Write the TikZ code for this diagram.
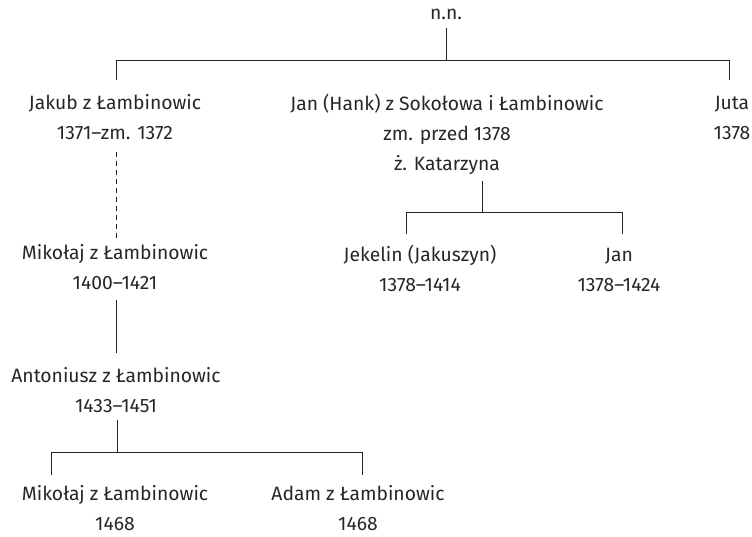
\documentclass[tikz,border=0pt]{standalone}
\usepackage{fontspec}
\setmainfont{Fira Sans}
\begin{document}
\begin{tikzpicture}[x=1pt,y=-1pt,
  person/.style={align=center,inner sep=0pt,anchor=base,text=black!85,font=\fontsize{19.3}{30}\selectfont},
  link/.style={line width=0.9pt,draw=black!85}]
\useasboundingbox (0,0) rectangle (752,537);
% nodes (anchor = baseline of last line)
\node[person] (nn) at (446,20) {n.n.};
\node[person] (jakub) at (115,140) {Jakub z Łambinowic\\1371–zm. 1372};
\node[person] (jan) at (447,171) {Jan (Hank) z Sokołowa i Łambinowic\\zm. przed 1378\\ż. Katarzyna};
\node[person] (juta) at (732,140) {Juta\\1378};
\node[person] (mik1) at (115,290) {Mikołaj z Łambinowic\\1400–1421};
\node[person] (jek) at (420,291) {Jekelin (Jakuszyn)\\1378–1414};
\node[person] (jan2) at (619,291) {Jan\\1378–1424};
\node[person] (ant) at (116,412) {Antoniusz z Łambinowic\\1433–1451};
\node[person] (mik2) at (115,530) {Mikołaj z Łambinowic\\1468};
\node[person] (adam) at (358,530) {Adam z Łambinowic\\1468};
% coordinates
\coordinate (nnA) at (446,28);
\coordinate (nnB) at (446,60);
\coordinate (barL) at (116,60);
\coordinate (barR) at (729,60);
\coordinate (jakubT) at (116,80);
\coordinate (jutaT) at (729,80);
\coordinate (jakubB) at (116,152);
\coordinate (mik1T) at (116,240);
\coordinate (mik1B) at (116,300);
\coordinate (antT) at (116,353);
\coordinate (antB) at (117,420);
\coordinate (antJ) at (117,452);
\coordinate (b3L) at (51,452);
\coordinate (b3R) at (362,452);
\coordinate (mik2T) at (51,475);
\coordinate (adamT) at (362,475);
\coordinate (janB) at (482,181);
\coordinate (janJ) at (482,212);
\coordinate (b2L) at (406,212);
\coordinate (b2R) at (622,212);
\coordinate (jekT) at (406,234);
\coordinate (jan2T) at (622,234);
% connectors
\draw[link] (nnA) -- (nnB);
\draw[link] (jakubT) -- (barL) -- (barR) -- (jutaT);
\draw[link,dash pattern=on 5pt off 4pt] (jakubB) -- (mik1T);
\draw[link] (mik1B) -- (antT);
\draw[link] (antB) -- (antJ);
\draw[link] (mik2T) -- (b3L) -- (b3R) -- (adamT);
\draw[link] (janB) -- (janJ);
\draw[link] (jekT) -- (b2L) -- (b2R) -- (jan2T);
\end{tikzpicture}
\end{document}
